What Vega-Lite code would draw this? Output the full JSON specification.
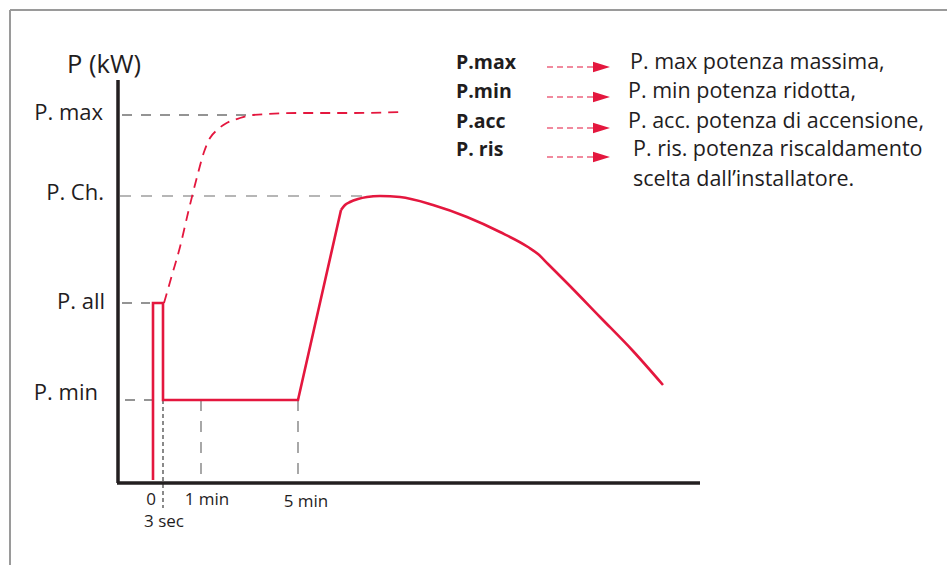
{
  "$schema": "https://vega.github.io/schema/vega-lite/v6.json",
  "width": 947,
  "height": 565,
  "padding": 0,
  "autosize": {"type": "none"},
  "background": "white",
  "config": {"view": {"stroke": null}, "text": {"font": "Open Sans", "color": "#1f1d1e"}},
  "datasets": {
    "frame": [
      {"x": -108, "x2": 829, "y": 473, "y2": 473},
      {"x": -108, "x2": -108, "y": 473, "y2": -82}
    ],
    "guidesDark": [
      {"x": 4, "x2": 132, "y": 368, "y2": 368},
      {"x": 4, "x2": 32, "y": 180, "y2": 180},
      {"x": 7, "x2": 45, "y": 83, "y2": 83}
    ],
    "guidesGray": [
      {"x": 2, "x2": 262, "y": 287, "y2": 287},
      {"x": 83, "x2": 83, "y": 83, "y2": 0},
      {"x": 180, "x2": 180, "y": 83, "y2": 0}
    ],
    "guideSec": [
      {"x": 45, "x2": 45, "y": 83, "y2": -25}
    ],
    "axes": [
      {"x": 0, "x2": 0, "y": 0, "y2": 403},
      {"x": -1, "x2": 582, "y": 0, "y2": 0}
    ],
    "maxCurve": [
      {"i": 1, "x": 46, "y": 180},
      {"i": 2, "x": 54, "y": 208},
      {"i": 3, "x": 62, "y": 236},
      {"i": 4, "x": 70, "y": 270},
      {"i": 5, "x": 79, "y": 306},
      {"i": 6, "x": 86, "y": 331},
      {"i": 7, "x": 92, "y": 345},
      {"i": 8, "x": 99, "y": 353},
      {"i": 9, "x": 107, "y": 359},
      {"i": 10, "x": 122, "y": 365},
      {"i": 11, "x": 135, "y": 368},
      {"i": 12, "x": 182, "y": 370},
      {"i": 13, "x": 235, "y": 370},
      {"i": 14, "x": 287, "y": 371}
    ],
    "startCurve": [
      {"i": 1, "x": 35, "y": 3},
      {"i": 2, "x": 35, "y": 180},
      {"i": 3, "x": 45, "y": 180},
      {"i": 4, "x": 45, "y": 83},
      {"i": 5, "x": 180, "y": 83},
      {"i": 6, "x": 223, "y": 273}
    ],
    "risCurve": [
      {"i": 6, "x": 223, "y": 273},
      {"i": 7, "x": 227, "y": 278},
      {"i": 8, "x": 232, "y": 281},
      {"i": 9, "x": 240, "y": 284},
      {"i": 10, "x": 249, "y": 286},
      {"i": 11, "x": 262, "y": 287},
      {"i": 12, "x": 282, "y": 286},
      {"i": 13, "x": 315, "y": 278},
      {"i": 14, "x": 349, "y": 266},
      {"i": 15, "x": 382, "y": 251},
      {"i": 16, "x": 410, "y": 236},
      {"i": 17, "x": 420, "y": 229},
      {"i": 18, "x": 430, "y": 219},
      {"i": 19, "x": 449, "y": 200},
      {"i": 20, "x": 482, "y": 166},
      {"i": 21, "x": 515, "y": 132},
      {"i": 22, "x": 545, "y": 98}
    ],
    "arrows": [
      {"x": 429, "x2": 475, "y": 416, "y2": 416},
      {"x": 429, "x2": 475, "y": 386, "y2": 386},
      {"x": 429, "x2": 475, "y": 355, "y2": 355},
      {"x": 429, "x2": 475, "y": 326, "y2": 326}
    ],
    "heads": [
      {"x": 483.5, "y": 416},
      {"x": 483.5, "y": 386},
      {"x": 483.5, "y": 355},
      {"x": 483.5, "y": 326}
    ],
    "title": [{"x": -14, "y": 418, "t": "P (kW)"}],
    "yLabels": [
      {"x": -15, "y": 370, "t": "P. max"},
      {"x": -14, "y": 290, "t": "P. Ch."},
      {"x": -13, "y": 181, "t": "P. all"},
      {"x": -20, "y": 90, "t": "P. min"}
    ],
    "xLabels": [
      {"x": 33, "y": -17, "t": "0"},
      {"x": 89, "y": -17, "t": "1 min"},
      {"x": 188, "y": -19, "t": "5 min"},
      {"x": 46, "y": -39, "t": "3 sec"}
    ],
    "legendKeys": [
      {"x": 338, "y": 420, "t": "P.max"},
      {"x": 338, "y": 391, "t": "P.min"},
      {"x": 338, "y": 361, "t": "P.acc"},
      {"x": 338, "y": 333, "t": "P. ris"}
    ],
    "legendText": [
      {"x": 512, "y": 420, "t": "P. max potenza massima,"},
      {"x": 510, "y": 391, "t": "P. min potenza ridotta,"},
      {"x": 510, "y": 361, "t": "P. acc. potenza di accensione,"},
      {"x": 515, "y": 333, "t": "P. ris. potenza riscaldamento"},
      {"x": 515, "y": 303, "t": "scelta dall’installatore."}
    ]
  },
  "encoding": {
    "x": {"field": "x", "type": "quantitative", "scale": {"domain": [-118, 829], "nice": false, "zero": false}, "axis": null},
    "y": {"field": "y", "type": "quantitative", "scale": {"domain": [-82, 483], "nice": false, "zero": false}, "axis": null}
  },
  "layer": [
    {"data": {"name": "frame"}, "mark": {"type": "rule", "color": "#9a9a9a", "strokeWidth": 2},
     "encoding": {"x2": {"field": "x2"}, "y2": {"field": "y2"}}},
    {"data": {"name": "guidesDark"}, "mark": {"type": "rule", "color": "#2a2a2a", "strokeWidth": 1.2, "strokeDash": [10, 9]},
     "encoding": {"x2": {"field": "x2"}, "y2": {"field": "y2"}}},
    {"data": {"name": "guidesGray"}, "mark": {"type": "rule", "color": "#6e6e6e", "strokeWidth": 1.2, "strokeDash": [11, 10]},
     "encoding": {"x2": {"field": "x2"}, "y2": {"field": "y2"}}},
    {"data": {"name": "guideSec"}, "mark": {"type": "rule", "color": "#2a2a2a", "strokeWidth": 1.1, "strokeDash": [4, 3]},
     "encoding": {"x2": {"field": "x2"}, "y2": {"field": "y2"}}},
    {"data": {"name": "axes"}, "mark": {"type": "rule", "color": "#231f20", "strokeWidth": 3.5},
     "encoding": {"x2": {"field": "x2"}, "y2": {"field": "y2"}}},
    {"data": {"name": "maxCurve"}, "mark": {"type": "line", "color": "#e4173e", "strokeWidth": 1.8, "strokeDash": [10, 7], "interpolate": "monotone"},
     "encoding": {"order": {"field": "i", "type": "quantitative"}}},
    {"data": {"name": "startCurve"}, "mark": {"type": "line", "color": "#e4173e", "strokeWidth": 2.6, "strokeJoin": "miter"},
     "encoding": {"order": {"field": "i", "type": "quantitative"}}},
    {"data": {"name": "risCurve"}, "mark": {"type": "line", "color": "#e4173e", "strokeWidth": 2.6, "interpolate": "monotone"},
     "encoding": {"order": {"field": "i", "type": "quantitative"}}},
    {"data": {"name": "arrows"}, "mark": {"type": "rule", "color": "#e4173e", "strokeWidth": 1.2, "strokeDash": [6, 4]},
     "encoding": {"x2": {"field": "x2"}, "y2": {"field": "y2"}}},
    {"data": {"name": "heads"}, "mark": {"type": "point", "shape": "M-1,-0.62L1,0L-1,0.62Z", "filled": true, "color": "#e4173e", "opacity": 1, "size": 289}},
    {"data": {"name": "title"}, "mark": {"type": "text", "fontSize": 25.5, "align": "center", "baseline": "middle"},
     "encoding": {"text": {"field": "t"}}},
    {"data": {"name": "yLabels"}, "mark": {"type": "text", "fontSize": 22, "align": "right", "baseline": "middle"},
     "encoding": {"text": {"field": "t"}}},
    {"data": {"name": "xLabels"}, "mark": {"type": "text", "fontSize": 17, "align": "center", "baseline": "middle"},
     "encoding": {"text": {"field": "t"}}},
    {"data": {"name": "legendKeys"}, "mark": {"type": "text", "fontSize": 19.5, "fontWeight": "bold", "align": "left", "baseline": "middle"},
     "encoding": {"text": {"field": "t"}}},
    {"data": {"name": "legendText"}, "mark": {"type": "text", "fontSize": 21.5, "align": "left", "baseline": "middle"},
     "encoding": {"text": {"field": "t"}}}
  ]
}
